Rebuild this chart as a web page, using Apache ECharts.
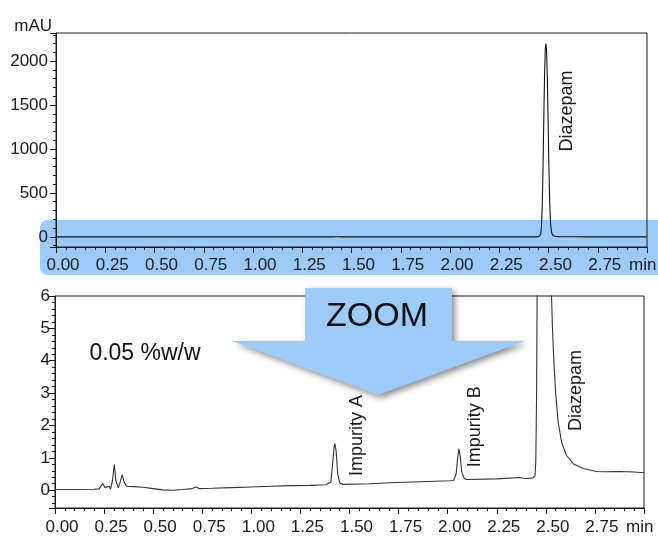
<!DOCTYPE html>
<html>
<head>
<meta charset="utf-8">
<title>Chromatogram</title>
<script src="https://cdn.jsdelivr.net/npm/echarts@6/dist/echarts.min.js"></script>
<style>
  html, body { margin: 0; padding: 0; background: #fff; }
  #main { width: 658px; height: 536px; }
</style>
</head>
<body>
<div id="main"></div>
<script>
// retention time (min) and absorbance (mAU)
var retentionTimes = [
  0.00, 0.10, 0.20, 0.225, 0.243, 0.255, 0.262, 0.276, 0.283, 0.293,
  0.302, 0.310, 0.322, 0.332, 0.342, 0.352, 0.365, 0.40, 0.45, 0.50,
  0.55, 0.60, 0.65, 0.70, 0.717, 0.735, 0.80, 0.90, 1.00, 1.10,
  1.20, 1.30, 1.38, 1.405, 1.414, 1.421, 1.426, 1.432, 1.440, 1.451,
  1.468, 1.60, 1.74, 1.90, 2.011, 2.030, 2.043, 2.050, 2.057, 2.064,
  2.072, 2.085, 2.096, 2.249, 2.368, 2.385, 2.402, 2.435, 2.445, 2.449,
  2.453, 2.456, 2.460, 2.464, 2.468, 2.472, 2.476, 2.480, 2.484, 2.487,
  2.490, 2.494, 2.498, 2.502, 2.506, 2.510, 2.515, 2.520, 2.525, 2.529,
  2.534, 2.541, 2.551, 2.563, 2.580, 2.605, 2.639, 2.690, 2.758, 2.800,
  2.877, 2.950, 3.00
]
var absorbance = [
  0.02, 0.02, 0.03, 0.04, 0.21, 0.08, 0.06, 0.12, 0.03, 0.30,
  0.79, 0.30, 0.07, 0.25, 0.48, 0.25, 0.12, 0.11, 0.09, 0.05,
  0.01, 0.00, 0.02, 0.05, 0.10, 0.05, 0.06, 0.08, 0.10, 0.12,
  0.14, 0.15, 0.17, 0.25, 0.80, 1.30, 1.44, 1.20, 0.50, 0.21,
  0.18, 0.20, 0.24, 0.27, 0.29, 0.30, 0.50, 0.95, 1.28, 1.05,
  0.55, 0.36, 0.33, 0.35, 0.39, 0.37, 0.36, 0.38, 0.45, 0.9,
  3.0, 6.5, 25, 110, 330, 760, 1330, 1850, 2150, 2200,
  2130, 1820, 1320, 800, 400, 170, 60, 22, 9, 6.0,
  4.97, 3.95, 2.92, 2.10, 1.49, 1.08, 0.82, 0.67, 0.58, 0.57,
  0.58, 0.56, 0.54
]
var peakNames = ['Impurity A', 'Impurity B', 'Diazepam']
var xTickStep = 0.25

var chartDom = document.getElementById('main')
var myChart = echarts.init(chartDom, null, { renderer: 'canvas' })

var trace = []
for (var i = 0; i < retentionTimes.length; i++) {
  trace.push([retentionTimes[i], absorbance[i]])
}

var FONT = 'Liberation Sans, Arial, sans-serif'
var INK = '#1a1a1a'

function timeAxis(gridIndex, labelMargin) {
  return {
    type: 'value',
    gridIndex: gridIndex,
    min: 0,
    max: 3,
    interval: xTickStep,
    name: 'min',
    nameLocation: 'end',
    nameGap: -18,
    nameTextStyle: {
      fontFamily: FONT,
      fontSize: 17,
      color: INK,
      verticalAlign: 'top',
      padding: [labelMargin, 0, 0, 0],
    },
    axisLine: { onZero: false, lineStyle: { color: INK, width: 1 } },
    axisTick: { show: true, length: 6, lineStyle: { color: INK } },
    minorTick: { show: true, splitNumber: 5, length: 3, lineStyle: { color: INK } },
    splitLine: { show: false },
    axisLabel: {
      fontFamily: FONT,
      fontSize: 17,
      color: INK,
      margin: labelMargin,
      padding: [0, 0, 0, 14],
      formatter: function (v) {
        return v >= 3 ? '' : v.toFixed(2)
      },
    },
  }
}

var option = {
  backgroundColor: '#fff',
  animation: false,
  grid: [
    { left: 56, top: 33, right: 11, height: 214, show: true, borderColor: INK, borderWidth: 1 },
    { left: 55, top: 296, right: 14, height: 213, show: true, borderColor: INK, borderWidth: 1 },
  ],
  xAxis: [timeAxis(0, 10), timeAxis(1, 11)],
  yAxis: [
    {
      type: 'value',
      gridIndex: 0,
      min: -115,
      max: 2320,
      splitNumber: 5,
      name: 'mAU',
      nameLocation: 'end',
      nameGap: -2,
      nameTextStyle: { fontFamily: FONT, fontSize: 17, color: INK, align: 'right', padding: [0, 4, 0, 0] },
      axisLine: { lineStyle: { color: INK, width: 1 } },
      axisTick: { show: true, length: 6, lineStyle: { color: INK } },
      minorTick: { show: true, splitNumber: 5, length: 3, lineStyle: { color: INK } },
      splitLine: { show: false },
      axisLabel: {
        fontFamily: FONT,
        fontSize: 17,
        color: INK,
        margin: 8,
        formatter: function (v) {
          return v % 500 === 0 ? String(v) : ''
        },
      },
    },
    {
      type: 'value',
      gridIndex: 1,
      min: -0.55,
      max: 6,
      splitNumber: 7,
      axisLine: { lineStyle: { color: INK, width: 1 } },
      axisTick: { show: true, length: 6, lineStyle: { color: INK } },
      minorTick: { show: true, splitNumber: 5, length: 3, lineStyle: { color: INK } },
      splitLine: { show: false },
      axisLabel: {
        fontFamily: FONT,
        fontSize: 17,
        color: INK,
        margin: 5,
        formatter: function (v) {
          return Number.isInteger(v) ? String(v) : ''
        },
      },
    },
  ],
  series: [
    {
      // full scale trace
      name: 'full',
      type: 'line',
      xAxisIndex: 0,
      yAxisIndex: 0,
      data: trace,
      showSymbol: false,
      lineStyle: { color: '#111', width: 1.1 },
      markPoint: {
        symbol: 'circle',
        symbolSize: 1,
        itemStyle: { color: 'rgba(0,0,0,0)' },
        label: { show: true, position: 'inside', rotate: 90, formatter: '{b}', fontFamily: FONT, fontSize: 18, color: INK },
        data: [{ name: peakNames[2], coord: [2.595, 1432] }],
      },
    },
    {
      // zoomed trace, same data
      name: 'zoom',
      type: 'line',
      xAxisIndex: 1,
      yAxisIndex: 1,
      data: trace,
      showSymbol: false,
      clip: true,
      lineStyle: { color: '#333', width: 1.1 },
      markPoint: {
        symbol: 'circle',
        symbolSize: 1,
        itemStyle: { color: 'rgba(0,0,0,0)' },
        label: { show: true, position: 'inside', rotate: 90, formatter: '{b}', fontFamily: FONT, fontSize: 18, color: INK },
        data: [
          { name: peakNames[0], coord: [1.536, 1.69] },
          { name: peakNames[1], coord: [2.138, 1.96] },
          { name: peakNames[2], coord: [2.653, 3.08] },
        ],
      },
    },
  ],
  graphic: [
    {
      // highlight band under the top x axis
      type: 'rect',
      z: -1,
      shape: { x: 40, y: 220, width: 640, height: 55, r: 8 },
      style: { fill: '#9ccbfa' },
    },
    {
      type: 'polygon',
      z: 100,
      shape: {
        points: [[305, 288], [452, 288], [452, 341], [525, 341], [378, 395], [232, 341], [305, 341]],
      },
      style: {
        fill: '#9ccbfa',
        shadowBlur: 6,
        shadowColor: 'rgba(0,0,0,0.45)',
        shadowOffsetX: 3,
        shadowOffsetY: 3,
      },
    },
    {
      type: 'text',
      z: 101,
      style: { text: 'ZOOM', x: 377, y: 317, align: 'center', verticalAlign: 'middle', fontFamily: FONT, fontSize: 34, fill: '#111' },
    },
    {
      type: 'text',
      z: 101,
      style: { text: '0.05 %w/w', x: 145, y: 354, align: 'center', verticalAlign: 'middle', fontFamily: FONT, fontSize: 23, fill: '#111' },
    },
  ],
}

myChart.setOption(option)
window.addEventListener('resize', function () {
  myChart.resize()
})
</script>
</body>
</html>
